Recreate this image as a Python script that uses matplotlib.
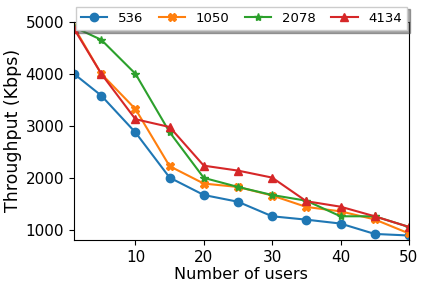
import matplotlib
matplotlib.use("Agg")
import matplotlib.pyplot as plt

users = [1, 5, 10, 15, 20, 25, 30, 35, 40, 45, 50]
s536 = [4000, 3580, 2870, 2000, 1665, 1535, 1255, 1190, 1115, 915, 885]
s1050 = [4900, 4000, 3320, 2220, 1885, 1820, 1655, 1435, 1350, 1195, 925]
s2078 = [4900, 4655, 4000, 2875, 1995, 1820, 1665, 1555, 1255, 1255, 1050]
s4134 = [4870, 4000, 3125, 2975, 2230, 2135, 2000, 1545, 1440, 1255, 1050]
labels = ["536", "1050", "2078", "4134"]

fig = plt.figure(figsize=(4.25, 2.88), dpi=100)
ax = fig.add_axes([0.174, 0.167, 0.788, 0.757])

series = [s536, s1050, s2078, s4134]
markers = ["o", "X", "*", "^"]
for vals, m, lab in zip(series, markers, labels):
    ax.plot(users, vals, marker=m, markersize=6, linewidth=1.5, label=lab)

ax.set_xlim(1, 50)
ax.set_ylim(800, 5000)
ax.set_xticks([10, 20, 30, 40, 50])
ax.set_yticks([1000, 2000, 3000, 4000, 5000])
ax.tick_params(labelsize=11)
ax.set_xlabel("Number of users", fontsize=11.5, labelpad=2)
ax.set_ylabel("Throughput (Kbps)", fontsize=12.5, labelpad=2.5)

ax.legend(ncol=4, fontsize=9.5, loc="upper left", mode="expand",
          bbox_to_anchor=(0.005, 1.07, 0.99, 0.0),
          shadow=True, fancybox=False, borderaxespad=0,
          handlelength=2.0, framealpha=1)

fig.savefig("out.png", dpi=100)
